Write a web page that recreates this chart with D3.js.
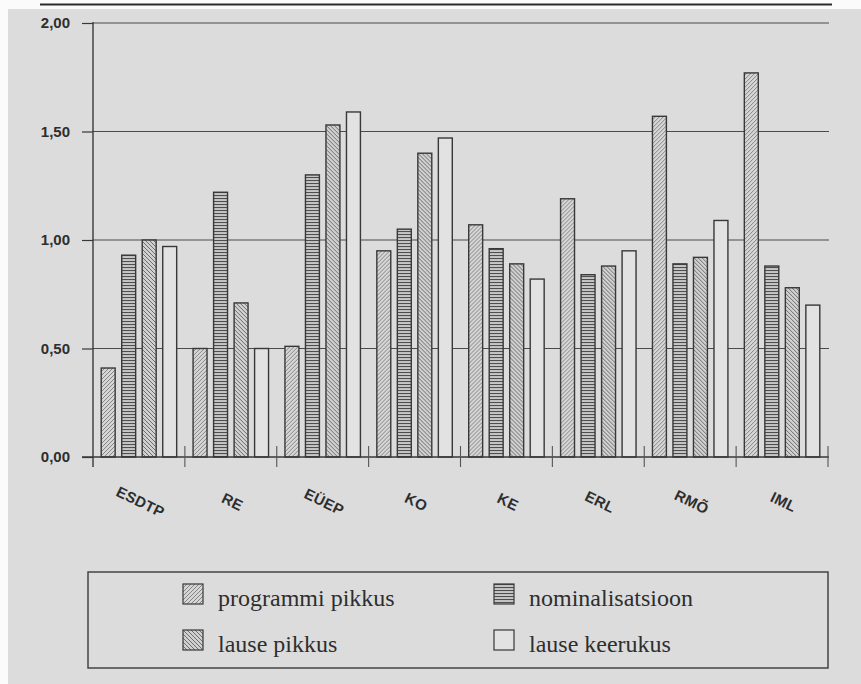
<!DOCTYPE html>
<html>
<head>
<meta charset="utf-8">
<script src="https://cdn.jsdelivr.net/npm/d3@7"></script>
<style>
html,body{margin:0;padding:0;background:#dcdcdc;}
svg{display:block;}
</style>
</head>
<body>
<svg id="chart" width="861" height="684"></svg>
<script>
const categories = ["ESDTP","RE","EÜEP","KO","KE","ERL","RMÕ","IML"];
const seriesNames = ["programmi pikkus","nominalisatsioon","lause pikkus","lause keerukus"];
const programmiPikkus = [0.41,0.50,0.51,0.95,1.07,1.19,1.57,1.77];
const nominalisatsioon = [0.93,1.22,1.30,1.05,0.96,0.84,0.89,0.88];
const lausePikkus = [1.00,0.71,1.53,1.40,0.89,0.88,0.92,0.78];
const lauseKeerukus = [0.97,0.50,1.59,1.47,0.82,0.95,1.09,0.70];
const yTicks = [0,0.5,1,1.5,2];
const yTickLabels = ["0,00","0,50","1,00","1,50","2,00"];

const seriesValues = [programmiPikkus, nominalisatsioon, lausePikkus, lauseKeerukus];
const table = categories.map((c,i)=>({cat:c, vals: seriesNames.map((s,j)=>({series:s, value:seriesValues[j][i]}))}));

const svg = d3.select("#chart");
const ink = "#383838";
const paper = "#dcdcdc";

// page background with white scan margins
svg.append("rect").attr("width",861).attr("height",684).attr("fill",paper);
svg.append("rect").attr("x",0).attr("y",0).attr("width",861).attr("height",9).attr("fill","#fbfbfb");
svg.append("rect").attr("x",0).attr("y",0).attr("width",8).attr("height",684).attr("fill","#fbfbfb");
svg.append("line").attr("x1",40).attr("x2",832).attr("y1",4.5).attr("y2",4.5).attr("stroke","#2a2a2a").attr("stroke-width",2);

// patterns
const defs = svg.append("defs");
function hatch(id, bg, fg, kind, sw){
  const p = defs.append("pattern").attr("id",id).attr("patternUnits","userSpaceOnUse").attr("width",4).attr("height",4);
  p.append("rect").attr("width",4).attr("height",4).attr("fill",bg);
  if(kind==="up"){
    p.append("path").attr("d","M-1,1 l2,-2 M0,4 l4,-4 M3,5 l2,-2").attr("stroke",fg).attr("stroke-width",sw);
  } else if(kind==="down"){
    p.append("path").attr("d","M-1,3 l2,2 M0,0 l4,4 M3,-1 l2,2").attr("stroke",fg).attr("stroke-width",sw);
  } else if(kind==="h"){
    p.attr("height",3);
    p.select("rect").attr("height",3);
    p.append("path").attr("d","M0,0.5 h4").attr("stroke",fg).attr("stroke-width",sw);
  }
}
hatch("pProg","#d6d6d6","#7a7a7a","up",0.9);
hatch("pNom","#c6c6c6","#4e4e4e","h",1.1);
hatch("pLause","#d0d0d0","#6e6e6e","down",1.0);
const fills = {"programmi pikkus":"url(#pProg)","nominalisatsioon":"url(#pNom)","lause pikkus":"url(#pLause)","lause keerukus":"#e2e2e2"};

// scales
const x0 = d3.scaleBand().domain(categories).range([93,828]).paddingInner(0).paddingOuter(0);
const x1 = d3.scaleBand().domain(seriesNames).range([0,x0.bandwidth()]).paddingInner(0.32).paddingOuter(0.4);
const y = d3.scaleLinear().domain([0,2]).range([457,23]);

// grid + y ticks
const yAxis = d3.axisLeft(y).tickValues(yTicks).tickSize(11).tickFormat((d,i)=>yTickLabels[i]).tickPadding(12);
const gy = svg.append("g").attr("transform","translate(93,0)").call(yAxis);
gy.select(".domain").remove();
gy.selectAll(".tick line").attr("stroke",ink).attr("stroke-width",1.2);
gy.selectAll(".tick text").attr("fill","#2e2e2e").attr("font-family","Liberation Sans, Arial, sans-serif").attr("font-weight","bold").attr("font-size","15px");
svg.append("g").selectAll("line").data(yTicks.filter(d=>d>0)).join("line")
  .attr("x1",93).attr("x2",829).attr("y1",d=>y(d)).attr("y2",d=>y(d))
  .attr("stroke","#4a4a4a").attr("stroke-width",1.1);

// bars
const groups = svg.append("g").selectAll("g").data(table).join("g")
  .attr("transform",d=>`translate(${x0(d.cat)},0)`);
groups.selectAll("rect").data(d=>d.vals).join("rect")
  .attr("x",d=>x1(d.series)).attr("width",x1.bandwidth())
  .attr("y",d=>y(d.value)).attr("height",d=>y(0)-y(d.value))
  .attr("fill",d=>fills[d.series]).attr("stroke",ink).attr("stroke-width",1.4);

// axes lines
svg.append("line").attr("x1",93).attr("x2",93).attr("y1",22).attr("y2",467).attr("stroke",ink).attr("stroke-width",1.4);
svg.append("line").attr("x1",82).attr("x2",829).attr("y1",457).attr("y2",457).attr("stroke",ink).attr("stroke-width",1.6);
const bounds = categories.map(c=>x0(c)).concat([x0.range()[1]]).slice(1);
svg.append("g").selectAll("line").data(bounds).join("line")
  .attr("x1",d=>d).attr("x2",d=>d).attr("y1",446).attr("y2",467)
  .attr("stroke","#555").attr("stroke-width",1.1);

// x labels
svg.append("g").selectAll("text").data(categories).join("text")
  .attr("transform",d=>`translate(${x0(d)+x0.bandwidth()/2+1},503) rotate(26)`)
  .attr("text-anchor","middle").attr("dominant-baseline","middle")
  .attr("font-family","Liberation Sans, Arial, sans-serif").attr("font-weight","bold")
  .attr("font-size","15px").attr("letter-spacing","0.3px").attr("fill","#2e2e2e")
  .text(d=>d);

// legend
svg.append("rect").attr("x",88).attr("y",572).attr("width",740).attr("height",96)
  .attr("fill","none").attr("stroke","#3a3a3a").attr("stroke-width",1.4);
const legPos = [[183,584],[494,584],[183,630],[494,630]];
const lg = svg.append("g").selectAll("g").data(seriesNames).join("g")
  .attr("transform",(d,i)=>`translate(${legPos[i][0]},${legPos[i][1]})`);
lg.append("rect").attr("width",20).attr("height",20).attr("fill",d=>fills[d]).attr("stroke",ink).attr("stroke-width",1.2);
lg.append("text").attr("x",35).attr("y",22).text(d=>d)
  .attr("font-family","Liberation Serif, Times New Roman, serif").attr("font-size","24px").attr("fill","#2e2e2e");
</script>
</body>
</html>
